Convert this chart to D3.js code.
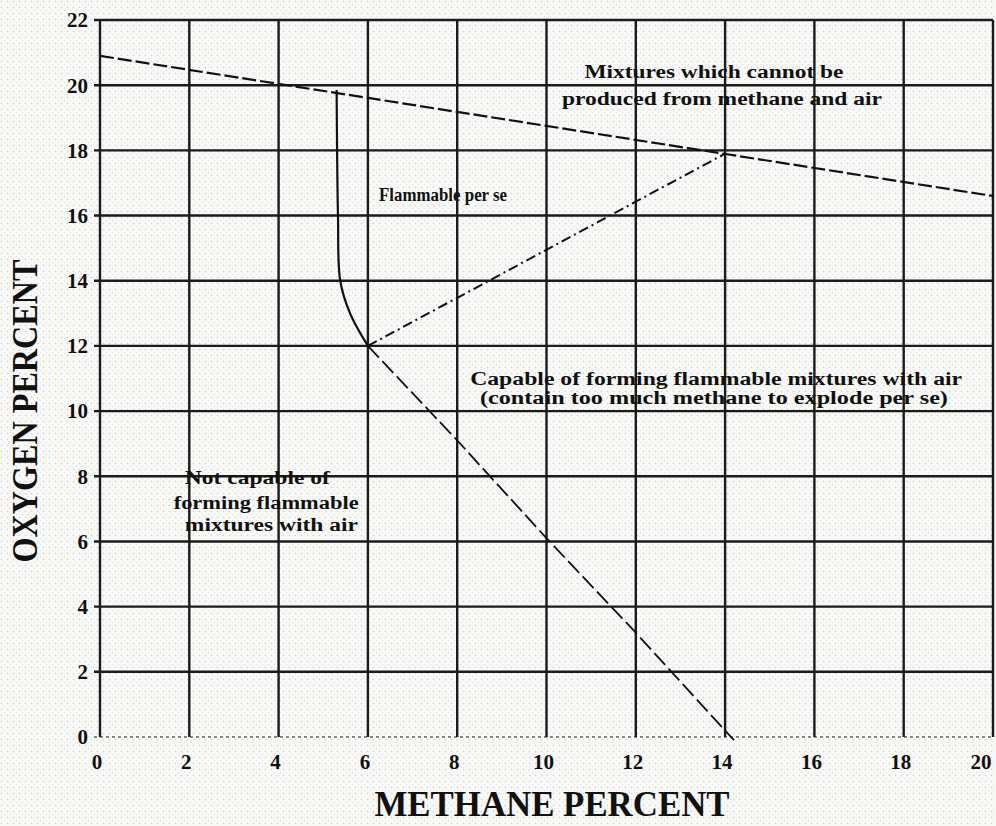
<!DOCTYPE html>
<html>
<head>
<meta charset="utf-8">
<script src="https://cdn.jsdelivr.net/npm/d3@7"></script>
<style>
  html, body { margin: 0; padding: 0; background: #f6f6f4; }
  svg { display: block; }
  text { font-family: "Liberation Serif", "DejaVu Serif", serif; font-weight: bold; fill: #111; }
</style>
</head>
<body>
<script>

// Grid and tick labels.
var xTicks = [0, 2, 4, 6, 8, 10, 12, 14, 16, 18, 20];
var yTicks = [0, 2, 4, 6, 8, 10, 12, 14, 16, 18, 20, 22];

// Methane/air dilution line (upper boundary).
var airLine = [[0, 20.9], [20, 16.6]];

// Line from the nose to the air line.
var noseToAir = [[6.0, 12.0], [14.0, 17.9]];

// Lower flammable limit curve.
var lowerLimit = [[5.3, 19.85], [5.31, 18], [5.33, 16], [5.38, 14], [5.6, 13], [6.0, 12.0]];

// Line from the nose down to the methane axis.
var richLine = [[6.0, 12.0], [8, 9.1], [10, 6.1], [12, 3.2], [14.2, -0.1]];

// Region labels: [text, methane, oxygen, width in px, anchor]
var labels = [
  ['Mixtures which cannot be', 13.75, 20.4, 259, 'middle'],
  ['produced from methane and air', 13.93, 19.6, 320, 'middle'],
  ['Flammable per se', 6.25, 16.65, 128, 'start'],
  ['Capable of forming flammable mixtures with air', 13.8, 11.0, 492, 'middle'],
  ['(contain too much methane to explode per se)', 13.75, 10.4, 468, 'middle'],
  ['Not capable of', 1.9, 7.95, 145, 'start'],
  ['forming flammable', 1.65, 7.2, 185, 'start'],
  ['mixtures with air', 1.9, 6.5, 173, 'start']
];

var W = 996, H = 826;
var margin = { left: 100, right: 3, top: 20, bottom: 89 };

var x = d3.scaleLinear().domain([0, 20])
  .range([margin.left, W - margin.right]);
var y = d3.scaleLinear().domain([0, 22])
  .range([H - margin.bottom, margin.top]);

var svg = d3.select('body').append('svg')
  .attr('width', W).attr('height', H);

/**
 * Speckled paper background, like the scanned original.
 */
var pat = svg.append('defs').append('pattern')
  .attr('id', 'paper').attr('width', 6).attr('height', 6)
  .attr('patternUnits', 'userSpaceOnUse');
pat.append('rect').attr('width', 6).attr('height', 6).attr('fill', '#f8f8f6');
pat.append('circle').attr('cx', 1.5).attr('cy', 1.5).attr('r', 0.8).attr('fill', '#cfcfcf');
pat.append('circle').attr('cx', 4.5).attr('cy', 4.5).attr('r', 0.6).attr('fill', '#dedede');
svg.append('rect').attr('width', W).attr('height', H).attr('fill', 'url(#paper)');

// Horizontal grid lines (slightly past the left axis).
svg.append('g').selectAll('line').data(yTicks).join('line')
  .attr('x1', x(0) - 6).attr('x2', x(20))
  .attr('y1', function(d) { return y(d); })
  .attr('y2', function(d) { return y(d); })
  .attr('stroke', '#1b1b1b')
  .attr('stroke-width', function(d) { return d === 0 ? 1.2 : 2.4; })
  .attr('stroke-dasharray', function(d) { return d === 0 ? '3,3' : null; });

// Vertical grid lines.
svg.append('g').selectAll('line').data(xTicks).join('line')
  .attr('x1', function(d) { return x(d); })
  .attr('x2', function(d) { return x(d); })
  .attr('y1', y(0)).attr('y2', y(22))
  .attr('stroke', '#1b1b1b')
  .attr('stroke-width', 2.4);

// Tick labels.
svg.append('g').selectAll('text').data(yTicks).join('text')
  .attr('x', x(0) - 12).attr('y', function(d) { return y(d); })
  .attr('dy', '0.35em').attr('text-anchor', 'end')
  .style('font-size', '21px')
  .text(function(d) { return d; });

svg.append('g').selectAll('text').data(xTicks).join('text')
  .attr('x', function(d) { return d === 20 ? x(d) - 12 : x(d) - 3; })
  .attr('y', y(0) + 25)
  .attr('dy', '0.35em').attr('text-anchor', 'middle')
  .style('font-size', '21px')
  .text(function(d) { return d; });

// Axis titles.
svg.append('text')
  .attr('x', 552).attr('y', 816)
  .attr('text-anchor', 'middle')
  .attr('textLength', 355).attr('lengthAdjust', 'spacingAndGlyphs')
  .style('font-size', '36px')
  .text('METHANE PERCENT');

svg.append('text')
  .attr('transform', 'translate(37,411) rotate(-90)')
  .attr('text-anchor', 'middle')
  .attr('textLength', 303).attr('lengthAdjust', 'spacingAndGlyphs')
  .style('font-size', '35px')
  .text('OXYGEN PERCENT');

/**
 * Draw one of the boundary lines.
 */
var line = d3.line()
  .x(function(d) { return x(d[0]); })
  .y(function(d) { return y(d[1]); });

function drawLine(data, dash, width, curve) {
  svg.append('path').datum(data)
    .attr('d', line.curve(curve || d3.curveLinear))
    .attr('fill', 'none')
    .attr('stroke', '#111')
    .attr('stroke-width', width)
    .attr('stroke-dasharray', dash);
}

drawLine(airLine, '14,4', 2.2);
drawLine(noseToAir, '10,4,2,4', 2.0);
drawLine(richLine, '16,5', 1.8);
drawLine(lowerLimit, null, 2.2, d3.curveCatmullRom);

// Region labels.
svg.append('g').selectAll('text').data(labels).join('text')
  .attr('x', function(d) { return x(d[1]); })
  .attr('y', function(d) { return y(d[2]); })
  .attr('text-anchor', function(d) { return d[4]; })
  .attr('dy', '0.35em')
  .attr('textLength', function(d) { return d[3]; })
  .attr('lengthAdjust', 'spacingAndGlyphs')
  .style('font-size', '18px')
  .text(function(d) { return d[0]; });

</script>
</body>
</html>
